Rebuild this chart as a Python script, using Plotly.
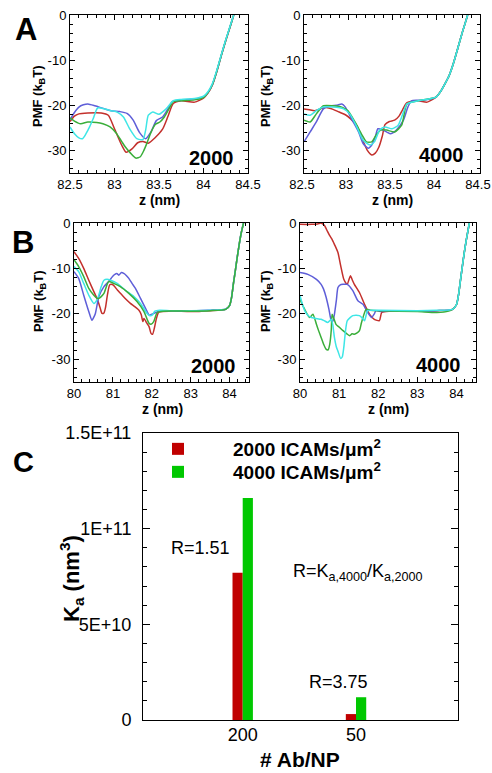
import plotly.graph_objects as go

# ---------------- DATA ----------------
# Panel A, 2000 ICAMs/um^2
a2000_red_z = [82.50, 82.55, 82.60, 82.70, 82.85, 82.93, 83.00, 83.08, 83.13, 83.20, 83.26, 83.32, 83.38, 83.45, 83.54, 83.60, 83.66, 83.75, 83.90, 84.00, 84.05, 84.10, 84.15, 84.20, 84.25, 84.30, 84.34]
a2000_red_pmf = [-23.6, -22.4, -21.9, -21.7, -21.7, -22.2, -25.2, -28.8, -30.4, -29.6, -28.3, -28.0, -28.4, -27.3, -25.3, -22.5, -19.6, -19.0, -19.3, -18.4, -17.3, -15.5, -12.5, -9.0, -5.7, -2.6, 0.0]
a2000_blue_z = [82.50, 82.55, 82.60, 82.65, 82.70, 82.78, 82.89, 82.96, 83.06, 83.14, 83.21, 83.28, 83.35, 83.41, 83.47, 83.54, 83.60, 83.65, 83.71, 83.83, 83.94, 84.00, 84.05, 84.10, 84.15, 84.20, 84.25, 84.30, 84.34]
a2000_blue_pmf = [-23.2, -21.6, -20.4, -19.9, -19.7, -20.1, -20.8, -21.2, -21.4, -21.8, -23.3, -26.0, -27.4, -25.9, -23.4, -22.6, -20.8, -19.2, -19.0, -18.7, -18.5, -18.2, -17.2, -15.4, -12.4, -8.9, -5.6, -2.5, 0.0]
a2000_green_z = [82.50, 82.55, 82.62, 82.70, 82.80, 82.87, 82.95, 83.02, 83.08, 83.12, 83.18, 83.24, 83.29, 83.33, 83.36, 83.41, 83.46, 83.51, 83.56, 83.62, 83.66, 83.75, 83.90, 84.00, 84.05, 84.10, 84.15, 84.20, 84.25, 84.30, 84.34]
a2000_green_pmf = [-22.8, -23.5, -24.1, -23.7, -23.8, -24.1, -24.8, -26.2, -28.0, -29.2, -30.6, -31.7, -31.4, -30.0, -28.6, -26.0, -24.2, -23.7, -22.6, -20.5, -19.2, -19.0, -18.8, -18.3, -17.2, -15.4, -12.4, -8.9, -5.6, -2.5, 0.0]
a2000_cyan_z = [82.50, 82.55, 82.60, 82.64, 82.68, 82.72, 82.76, 82.81, 82.89, 82.96, 83.03, 83.10, 83.17, 83.25, 83.32, 83.35, 83.38, 83.43, 83.50, 83.58, 83.66, 83.75, 83.90, 84.00, 84.05, 84.10, 84.15, 84.20, 84.25, 84.30, 84.34]
a2000_cyan_pmf = [-24.8, -26.3, -27.2, -27.4, -26.3, -24.8, -23.0, -20.6, -20.8, -21.2, -21.5, -22.6, -25.2, -27.4, -27.6, -25.5, -22.2, -21.5, -22.0, -20.8, -19.0, -18.7, -18.5, -18.0, -17.0, -15.2, -12.2, -8.8, -5.5, -2.4, 0.0]

# Panel A, 4000 ICAMs/um^2
a4000_red_z = [82.50, 82.56, 82.62, 82.68, 82.75, 82.83, 82.90, 82.97, 83.03, 83.10, 83.16, 83.22, 83.27, 83.31, 83.35, 83.39, 83.42, 83.47, 83.53, 83.58, 83.62, 83.67, 83.80, 83.90, 84.00, 84.05, 84.10, 84.15, 84.20, 84.25, 84.30, 84.36]
a4000_red_pmf = [-20.8, -21.0, -21.2, -20.8, -20.5, -20.9, -21.5, -22.1, -23.0, -24.5, -27.4, -30.0, -31.0, -30.6, -29.3, -26.8, -24.3, -23.6, -23.3, -22.4, -21.0, -19.4, -19.0, -19.3, -18.2, -17.0, -15.3, -13.4, -10.6, -7.2, -3.8, 0.0]
a4000_blue_z = [82.50, 82.57, 82.64, 82.72, 82.80, 82.87, 82.93, 82.97, 83.04, 83.12, 83.17, 83.23, 83.27, 83.31, 83.34, 83.40, 83.48, 83.55, 83.63, 83.68, 83.72, 83.85, 84.00, 84.05, 84.10, 84.15, 84.20, 84.25, 84.30, 84.36]
a4000_blue_pmf = [-28.1, -25.9, -23.7, -20.8, -20.1, -20.0, -19.7, -20.4, -23.0, -25.9, -28.4, -29.5, -28.8, -27.0, -25.2, -25.5, -26.3, -25.5, -23.3, -20.4, -19.0, -18.9, -18.2, -17.0, -15.3, -13.4, -10.6, -7.2, -3.8, 0.0]
a4000_green_z = [82.50, 82.57, 82.64, 82.72, 82.83, 82.93, 83.00, 83.08, 83.16, 83.21, 83.27, 83.32, 83.37, 83.44, 83.53, 83.61, 83.67, 83.80, 84.00, 84.05, 84.10, 84.15, 84.20, 84.25, 84.30, 84.36]
a4000_green_pmf = [-23.3, -23.7, -21.9, -20.1, -20.1, -20.4, -21.2, -23.7, -26.6, -28.1, -28.1, -26.6, -25.5, -25.5, -25.9, -24.4, -19.7, -19.0, -18.2, -17.0, -15.3, -13.4, -10.6, -7.2, -3.8, 0.0]
a4000_cyan_z = [82.50, 82.57, 82.64, 82.72, 82.83, 82.95, 83.02, 83.10, 83.17, 83.25, 83.30, 83.36, 83.42, 83.50, 83.57, 83.63, 83.67, 83.80, 84.00, 84.05, 84.10, 84.15, 84.20, 84.25, 84.30, 84.36]
a4000_cyan_pmf = [-21.9, -22.2, -21.2, -20.4, -20.4, -20.8, -21.9, -24.8, -27.7, -28.8, -28.1, -25.5, -24.8, -25.2, -24.4, -21.5, -19.7, -19.0, -18.2, -17.0, -15.3, -13.4, -10.6, -7.2, -3.8, 0.0]

# Panel B, 2000 ICAMs/um^2
b2000_red_z = [80.00, 80.12, 80.25, 80.38, 80.51, 80.60, 80.67, 80.72, 80.77, 80.81, 80.86, 80.92, 81.00, 81.12, 81.24, 81.35, 81.45, 81.56, 81.67, 81.73, 81.77, 81.80, 81.87, 81.93, 81.98, 82.02, 82.07, 82.12, 82.18, 82.50, 83.00, 83.50, 83.90, 84.00, 84.05, 84.10, 84.15, 84.20, 84.25, 84.30, 84.36]
b2000_red_pmf = [-6.3, -7.8, -10.0, -12.6, -15.1, -16.8, -18.6, -19.9, -19.8, -18.6, -15.8, -13.6, -13.6, -14.8, -15.9, -16.9, -17.7, -18.4, -19.2, -20.2, -21.7, -21.0, -22.0, -22.8, -24.3, -24.5, -23.0, -21.0, -19.6, -19.4, -19.5, -19.3, -19.0, -18.2, -16.5, -13.3, -10.4, -7.4, -4.6, -2.2, 0.0]
b2000_blue_z = [80.00, 80.12, 80.25, 80.38, 80.46, 80.50, 80.55, 80.64, 80.77, 80.89, 81.02, 81.10, 81.15, 81.22, 81.28, 81.35, 81.41, 81.50, 81.58, 81.71, 81.84, 81.94, 82.05, 82.20, 82.50, 83.00, 83.50, 83.90, 84.00, 84.05, 84.10, 84.15, 84.20, 84.25, 84.30, 84.36]
b2000_blue_pmf = [-10.7, -12.2, -15.9, -19.5, -21.4, -20.9, -19.9, -16.2, -14.0, -12.9, -11.5, -11.1, -11.5, -10.9, -11.1, -11.6, -12.2, -13.4, -14.4, -16.6, -18.8, -20.3, -19.9, -19.4, -19.3, -19.4, -19.2, -19.0, -18.2, -16.5, -13.3, -10.4, -7.4, -4.6, -2.2, 0.0]
b2000_green_z = [80.00, 80.12, 80.25, 80.38, 80.51, 80.60, 80.64, 80.70, 80.77, 80.84, 80.89, 81.02, 81.19, 81.41, 81.62, 81.80, 81.88, 81.93, 81.98, 82.05, 82.14, 82.30, 83.00, 83.50, 83.90, 84.00, 84.05, 84.10, 84.15, 84.20, 84.25, 84.30, 84.36]
b2000_green_pmf = [-8.1, -9.6, -11.8, -14.4, -15.9, -16.6, -16.6, -16.2, -15.5, -13.8, -12.9, -13.3, -14.0, -15.5, -17.3, -19.5, -21.2, -22.1, -22.3, -21.7, -19.7, -19.4, -19.4, -19.3, -19.0, -18.2, -16.5, -13.3, -10.4, -7.4, -4.6, -2.2, 0.0]
b2000_cyan_z = [80.00, 80.12, 80.25, 80.38, 80.51, 80.60, 80.70, 80.77, 80.85, 80.94, 81.11, 81.32, 81.54, 81.71, 81.88, 81.95, 82.01, 82.08, 82.20, 82.50, 83.00, 83.50, 83.90, 84.00, 84.05, 84.10, 84.15, 84.20, 84.25, 84.30, 84.36]
b2000_cyan_pmf = [-9.6, -10.7, -13.3, -15.9, -17.7, -16.8, -14.0, -12.6, -12.4, -12.6, -13.3, -14.8, -16.2, -17.7, -19.9, -20.4, -20.3, -19.4, -19.2, -19.3, -19.3, -19.2, -19.0, -18.2, -16.5, -13.3, -10.4, -7.4, -4.6, -2.2, 0.0]

# Panel B, 4000 ICAMs/um^2
b4000_red_z = [80.00, 80.29, 80.45, 80.54, 80.58, 80.63, 80.70, 80.76, 80.82, 80.88, 80.97, 81.04, 81.12, 81.18, 81.21, 81.25, 81.29, 81.34, 81.39, 81.52, 81.65, 81.78, 81.90, 82.03, 82.09, 82.30, 83.00, 83.50, 83.90, 84.00, 84.05, 84.10, 84.15, 84.20, 84.25, 84.33]
b4000_red_pmf = [-0.3, -0.3, -0.2, 0.0, -0.2, -0.6, -1.8, -2.8, -3.6, -4.7, -6.5, -9.4, -12.4, -13.3, -13.5, -12.5, -11.6, -12.6, -13.5, -15.3, -17.9, -20.1, -21.2, -21.5, -19.7, -19.4, -19.4, -19.3, -19.0, -18.0, -16.0, -12.8, -9.6, -6.5, -3.8, 0.0]
b4000_blue_z = [80.00, 80.20, 80.42, 80.54, 80.60, 80.67, 80.74, 80.80, 80.84, 80.88, 80.93, 80.97, 81.03, 81.10, 81.21, 81.35, 81.48, 81.61, 81.73, 81.83, 81.90, 81.94, 82.05, 82.30, 83.00, 83.50, 83.90, 84.00, 84.05, 84.10, 84.15, 84.20, 84.25, 84.33]
b4000_blue_pmf = [-10.9, -11.3, -12.4, -13.5, -14.5, -16.4, -19.0, -21.5, -21.6, -20.1, -17.0, -14.2, -13.6, -13.5, -13.5, -14.9, -17.1, -17.9, -19.7, -20.8, -20.0, -19.3, -19.5, -19.3, -19.4, -19.3, -19.0, -18.0, -16.0, -12.8, -9.6, -6.5, -3.8, 0.0]
b4000_green_z = [80.00, 80.06, 80.12, 80.20, 80.25, 80.33, 80.42, 80.48, 80.54, 80.60, 80.67, 80.72, 80.76, 80.80, 80.82, 80.86, 80.92, 81.00, 81.10, 81.20, 81.27, 81.33, 81.39, 81.46, 81.52, 81.57, 81.61, 81.69, 81.80, 82.00, 83.00, 83.50, 83.80, 83.90, 84.00, 84.05, 84.10, 84.15, 84.20, 84.25, 84.33]
b4000_green_pmf = [-16.8, -18.0, -19.0, -20.3, -20.8, -20.1, -22.3, -23.8, -25.2, -26.6, -27.8, -27.9, -26.7, -23.5, -20.1, -20.9, -22.3, -22.9, -23.7, -24.4, -24.8, -24.4, -24.5, -24.2, -23.7, -22.0, -20.8, -19.0, -19.2, -19.3, -19.5, -19.7, -19.4, -19.0, -18.0, -16.0, -12.8, -9.6, -6.5, -3.8, 0.0]
b4000_cyan_z = [80.00, 80.06, 80.12, 80.20, 80.29, 80.40, 80.54, 80.62, 80.71, 80.80, 80.84, 80.88, 80.93, 80.97, 81.04, 81.08, 81.12, 81.16, 81.21, 81.35, 81.52, 81.60, 81.65, 81.73, 81.85, 82.00, 83.00, 83.50, 83.90, 84.00, 84.05, 84.10, 84.15, 84.20, 84.25, 84.33]
b4000_cyan_pmf = [-16.0, -17.8, -19.3, -20.3, -20.8, -21.0, -21.2, -21.5, -21.9, -21.2, -22.5, -25.2, -27.3, -28.2, -29.8, -29.5, -27.4, -24.0, -21.5, -20.4, -20.4, -21.0, -21.5, -19.3, -19.2, -19.2, -19.3, -19.2, -19.0, -18.0, -16.0, -12.8, -9.6, -6.5, -3.8, 0.0]

# Panel C
ab_np = ["200", "50"]
ka_2000 = [7.7e10, 3.1e9]
ka_4000 = [1.16e11, 1.19e10]
series_names = ["<b>2000 ICAMs/μm<sup>2</sup></b>", "<b>4000 ICAMs/μm<sup>2</sup></b>"]

pmf_ticks = [0, -10, -20, -30]
pmf_ticktext = ["0", "-10", "-20", "-30"]
ka_ticks = [0, 5e10, 1e11, 1.5e11]
ka_ticktext = ["0", "5E+10", "1E+11", "1.5E+11"]

# ---------------- STYLE ----------------
W, H = 492, 773
FONT = "Liberation Sans, Arial, sans-serif"
COL = {"red": "#c3302c", "blue": "#5e5ed8", "green": "#3aae3a", "cyan": "#3ee6e6"}

def fx(p):
    return p / W

def fy(p):
    return 1 - p / H

fig = go.Figure()

panels = [
    ("x", "y", [("red", a2000_red_z, a2000_red_pmf), ("blue", a2000_blue_z, a2000_blue_pmf),
                ("green", a2000_green_z, a2000_green_pmf), ("cyan", a2000_cyan_z, a2000_cyan_pmf)]),
    ("x2", "y2", [("red", a4000_red_z, a4000_red_pmf), ("blue", a4000_blue_z, a4000_blue_pmf),
                  ("green", a4000_green_z, a4000_green_pmf), ("cyan", a4000_cyan_z, a4000_cyan_pmf)]),
    ("x3", "y3", [("red", b2000_red_z, b2000_red_pmf), ("blue", b2000_blue_z, b2000_blue_pmf),
                  ("cyan", b2000_cyan_z, b2000_cyan_pmf), ("green", b2000_green_z, b2000_green_pmf)]),
    ("x4", "y4", [("red", b4000_red_z, b4000_red_pmf), ("blue", b4000_blue_z, b4000_blue_pmf),
                  ("green", b4000_green_z, b4000_green_pmf), ("cyan", b4000_cyan_z, b4000_cyan_pmf)]),
]
for xa, ya, curves in panels:
    for c, zz, pp in curves:
        fig.add_trace(go.Scatter(x=zz, y=pp, mode="lines", xaxis=xa, yaxis=ya,
                                 line=dict(color=COL[c], width=1.5, shape="spline", smoothing=0.6),
                                 showlegend=False, hoverinfo="skip"))

fig.add_trace(go.Bar(x=ab_np, y=ka_2000, name=series_names[0], marker=dict(color="#c00000", line=dict(width=0)),
                     xaxis="x5", yaxis="y5", legend="legend"))
fig.add_trace(go.Bar(x=ab_np, y=ka_4000, name=series_names[1], marker=dict(color="#00c800", line=dict(width=0)),
                     xaxis="x5", yaxis="y5", legend="legend2"))

def frame(**kw):
    d = dict(showline=True, linecolor="black", linewidth=1, mirror="ticks", ticks="inside",
             ticklen=5, tickwidth=1, tickcolor="black", showgrid=False, zeroline=False,
             tickfont=dict(family=FONT, size=13, color="black"), automargin=False,
             ticklabeloverflow="allow")
    d.update(kw)
    return d

def yaxis_pmf(dom, anchor):
    return frame(domain=dom, anchor=anchor, range=[-35, 0], tickvals=pmf_ticks, ticktext=pmf_ticktext,
                 minor=dict(ticks="inside", ticklen=3, tick0=0, dtick=2, tickcolor="black"))

def xaxis_pmf(dom, anchor, rng, dt, mdt, shift=0):
    return frame(domain=dom, anchor=anchor, range=rng, tick0=rng[0], dtick=dt, ticklabelshift=shift,
                 ticklabelstandoff=-1,
                 minor=dict(ticks="inside", ticklen=3, tick0=rng[0], dtick=mdt, tickcolor="black"))

ydomA = [fy(173), fy(15)]
ydomB = [fy(382), fy(223)]

leg_common = dict(xanchor="left", yanchor="middle", bgcolor="rgba(0,0,0,0)",
                  font=dict(family=FONT, size=19, color="black"), itemwidth=100)

fig.update_layout(
    width=W, height=H, margin=dict(l=0, r=0, t=0, b=0),
    paper_bgcolor="white", plot_bgcolor="white",
    font=dict(family=FONT, color="black"),
    barmode="group", bargap=0.82, bargroupgap=0,
    xaxis=xaxis_pmf([fx(70), fx(248)], "y", [82.5, 84.5], 0.5, 0.1),
    yaxis=yaxis_pmf(ydomA, "x"),
    xaxis2=xaxis_pmf([fx(304), fx(480)], "y2", [82.5, 84.5], 0.5, 0.1, shift=-2),
    yaxis2=yaxis_pmf(ydomA, "x2"),
    xaxis3=xaxis_pmf([fx(74), fx(249)], "y3", [80, 84.5], 1, 0.2),
    yaxis3=yaxis_pmf(ydomB, "x3"),
    xaxis4=xaxis_pmf([fx(300), fx(476)], "y4", [80, 84.5], 1, 0.2),
    yaxis4=yaxis_pmf(ydomB, "x4"),
    xaxis5=frame(domain=[fx(143), fx(458)], anchor="y5", type="category", range=[-0.88, 1.9], ticks="",
                 tickfont=dict(family=FONT, size=18, color="black"), ticklabelstandoff=-2),
    yaxis5=frame(domain=[fy(720), fy(433)], anchor="x5", range=[0, 1.5e11],
                 tickvals=ka_ticks, ticktext=ka_ticktext, ticklen=7, ticklabelstandoff=7,
                 tickfont=dict(family=FONT, size=18, color="black"),
                 minor=dict(ticks="inside", ticklen=4, tick0=0, dtick=1e10, tickcolor="black")),
    legend=dict(x=fx(123), y=fy(449), **leg_common),
    legend2=dict(x=fx(123), y=fy(472), **leg_common),
)

ann = []
def label(text, x, y, size, bold=True, xanchor="center", yanchor="middle", angle=0):
    t = f"<b>{text}</b>" if bold else text
    ann.append(dict(text=t, x=fx(x), y=fy(y), xref="paper", yref="paper", showarrow=False,
                    xanchor=xanchor, yanchor=yanchor, textangle=angle,
                    font=dict(family=FONT, size=size, color="black")))

# panel letters
label("A", 26, 29, 31)
label("B", 23, 243, 31)
label("C", 23, 462, 29)
# density labels inside panels
label("2000", 236, 158, 20, xanchor="right")
label("4000", 466, 155, 20, xanchor="right")
label("2000", 238, 366, 20, xanchor="right")
label("4000", 463, 365, 20, xanchor="right")
# axis titles
pmf_t = "PMF (k<sub>B</sub>T)"
label(pmf_t, 38, 97, 13, angle=-90)
label(pmf_t, 266, 97, 13, angle=-90)
label(pmf_t, 39, 302, 13, angle=-90)
label(pmf_t, 266, 302, 13, angle=-90)
label("z (nm)", 159, 200, 14)
label("z (nm)", 392, 200, 14)
label("z (nm)", 162, 409, 14)
label("z (nm)", 388, 409, 14)
label("# Ab/NP", 300, 759, 21)
label("K<sub>a</sub> (nm<sup>3</sup>)", 71, 579, 22, angle=-90)
# ratio notes
label("R=1.51", 200, 548, 18, bold=False)
label("R=3.75", 338, 682, 18, bold=False)
label("R=K<sub>a,4000</sub>/K<sub>a,2000</sub>", 358, 572, 18, bold=False)
fig.update_layout(annotations=ann)

fig.write_html("out.html", config={"displayModeBar": False},
               post_script="document.body.style.margin='0px';document.body.style.overflow='hidden';")
